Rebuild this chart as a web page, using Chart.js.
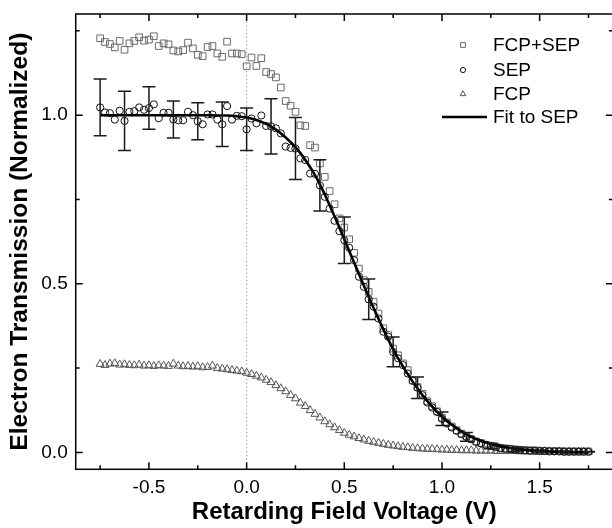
<!DOCTYPE html>
<html><head><meta charset="utf-8">
<script src="https://cdn.jsdelivr.net/npm/chart.js@4.4.1/dist/chart.umd.min.js"></script>
<style>html,body{margin:0;padding:0;overflow:hidden;background:#fff}#wrap{width:614px;height:528px}</style>
</head><body><div id="wrap"><canvas id="c" width="614" height="528"></canvas></div>
<script>
const voltage = [
-0.75,-0.725,-0.7,-0.675,-0.65,-0.625,-0.6,-0.575,-0.55,-0.525,
-0.5,-0.475,-0.45,-0.425,-0.4,-0.375,-0.35,-0.325,-0.3,-0.275,
-0.25,-0.225,-0.2,-0.175,-0.15,-0.125,-0.1,-0.075,-0.05,-0.025,
0,0.025,0.05,0.075,0.1,0.125,0.15,0.175,0.2,0.225,
0.25,0.275,0.3,0.325,0.35,0.375,0.4,0.425,0.45,0.475,
0.5,0.525,0.55,0.575,0.6,0.625,0.65,0.675,0.7,0.725,
0.75,0.775,0.8,0.825,0.85,0.875,0.9,0.925,0.95,0.975,
1,1.025,1.05,1.075,1.1,1.125,1.15,1.175,1.2,1.225,
1.25,1.275,1.3,1.325,1.35,1.375,1.4,1.425,1.45,1.475,
1.5,1.525,1.55,1.575,1.6,1.625,1.65,1.675,1.7,1.725,
1.75];
const fcpSep = [
1.228,1.217,1.211,1.201,1.220,1.194,1.213,1.220,1.231,1.221,
1.224,1.234,1.205,1.213,1.210,1.192,1.189,1.193,1.215,1.198,
1.179,1.175,1.202,1.205,1.183,1.173,1.218,1.183,1.183,1.181,
1.145,1.171,1.146,1.169,1.128,1.122,1.112,1.082,1.042,1.028,
1.010,0.970,0.968,0.911,0.904,0.857,0.817,0.775,0.736,0.694,
0.667,0.632,0.592,0.545,0.511,0.476,0.447,0.412,0.368,0.348,
0.308,0.288,0.264,0.244,0.214,0.194,0.174,0.152,0.137,0.122,
0.103,0.089,0.077,0.066,0.056,0.048,0.040,0.033,0.028,0.023,
0.020,0.017,0.014,0.012,0.011,0.009,0.008,0.007,0.006,0.006,
0.005,0.005,0.004,0.004,0.004,0.003,0.003,0.003,0.003,0.003,
0.003];
const sep = [
1.023,1.008,1.006,0.987,1.013,0.983,1.010,1.012,1.023,1.016,
1.021,1.032,0.991,1.007,1.007,0.987,0.985,0.985,1.010,1.000,
0.982,0.973,1.002,1.002,0.987,0.973,1.027,0.987,0.998,0.997,
0.958,0.990,0.976,0.999,0.968,0.967,0.961,0.946,0.907,0.903,
0.901,0.872,0.867,0.827,0.826,0.792,0.758,0.723,0.687,0.656,
0.629,0.607,0.570,0.521,0.491,0.454,0.432,0.397,0.358,0.343,
0.298,0.279,0.259,0.234,0.212,0.192,0.170,0.148,0.133,0.120,
0.100,0.086,0.074,0.064,0.054,0.046,0.039,0.031,0.027,0.022,
0.019,0.016,0.013,0.011,0.010,0.008,0.007,0.006,0.005,0.005,
0.004,0.004,0.003,0.003,0.003,0.002,0.002,0.002,0.002,0.002,
0.002];
const fcp = [
0.262,0.259,0.263,0.264,0.260,0.261,0.259,0.258,0.260,0.257,
0.258,0.256,0.258,0.257,0.256,0.263,0.257,0.255,0.256,0.254,
0.255,0.252,0.253,0.257,0.250,0.248,0.246,0.244,0.242,0.240,
0.236,0.232,0.227,0.222,0.215,0.208,0.199,0.190,0.181,0.170,
0.160,0.147,0.137,0.125,0.114,0.103,0.092,0.083,0.074,0.066,
0.058,0.052,0.047,0.042,0.038,0.034,0.031,0.028,0.025,0.022,
0.020,0.018,0.016,0.015,0.013,0.012,0.011,0.010,0.010,0.009,
0.008,0.008,0.007,0.007,0.006,0.006,0.006,0.005,0.005,0.005,
0.005,0.004,0.004,0.004,0.004,0.004,0.003,0.003,0.003,0.003,
0.003,0.003,0.003,0.002,0.002,0.002,0.002,0.002,0.002,0.002,
0.002];
const fitV = [
-0.75,-0.7,-0.65,-0.6,-0.55,-0.5,-0.45,-0.4,-0.35,-0.3,
-0.25,-0.2,-0.15,-0.1,-0.05,
0,0.05,0.1,0.15,0.2,0.25,0.3,0.35,0.4,0.45,
0.5,0.55,0.6,0.65,0.7,0.75,0.8,0.85,0.9,0.95,
1,1.05,1.1,1.15,1.2,1.25,1.3,1.35,1.4,1.45,
1.5,1.55,1.6,1.65,1.7,1.75];
const fitY = [
1.000,1.000,1.000,1.000,1.000,1.000,1.000,1.000,1.000,1.000,
1.000,1.000,0.999,0.999,0.997,
0.993,0.986,0.974,0.957,0.934,0.905,0.868,0.822,0.765,0.700,
0.632,0.563,0.495,0.428,0.365,0.306,0.255,0.210,0.170,0.136,
0.106,0.082,0.062,0.046,0.034,0.025,0.018,0.013,0.009,0.006,
0.004,0.003,0.002,0.001,0.001,0.000];
const errV = [-0.75,-0.625,-0.5,-0.375,-0.25,-0.125,0,0.125,0.25,0.375,0.5,0.625,0.75,0.875,1,1.125,1.25,1.375,1.5,1.625,1.75];
const errHalf = [0.084,0.088,0.063,0.055,0.055,0.066,0.063,0.082,0.092,0.076,0.069,0.060,0.044,0.032,0.020,0.013,0.008,0.005,0.003,0.002,0.001];
const xTicks = [-0.5,0,0.5,1,1.5];
const xMinor = [-0.75,-0.25,0.25,0.75,1.25,1.75];
const yTicks = [0,0.5,1];
const yMinor = [0.25,0.75,1.25];
const seriesNames = ['FCP+SEP','SEP','FCP','Fit to SEP'];

const FONT = "'Liberation Sans', Arial, Helvetica, sans-serif";

const deco = {
  id: 'deco',
  beforeDatasetsDraw(chart) {
    const {ctx, chartArea: a, scales: {x}} = chart;
    const px = x.getPixelForValue(0);
    ctx.save();
    ctx.strokeStyle = '#8a8a8a';
    ctx.lineWidth = 1;
    ctx.setLineDash([1.2, 2.6]);
    ctx.beginPath(); ctx.moveTo(px, a.top); ctx.lineTo(px, a.bottom); ctx.stroke();
    ctx.restore();
  },
  afterDatasetsDraw(chart) {
    const {ctx, scales: {x, y}} = chart;
    ctx.save();
    ctx.strokeStyle = '#1a1a1a';
    ctx.lineWidth = 1.5;
    errV.forEach((v, k) => {
      const i = voltage.findIndex(t => Math.abs(t - v) < 1e-6);
      const c = sep[i];
      const px = x.getPixelForValue(v);
      const yt = y.getPixelForValue(c + errHalf[k]);
      const yb = y.getPixelForValue(c - errHalf[k]);
      ctx.beginPath();
      ctx.moveTo(px, yt); ctx.lineTo(px, yb);
      ctx.moveTo(px - 6.5, yt); ctx.lineTo(px + 6.5, yt);
      ctx.moveTo(px - 6.5, yb); ctx.lineTo(px + 6.5, yb);
      ctx.stroke();
    });
    ctx.restore();
  },
  afterDraw(chart) {
    const {ctx, chartArea: a, scales: {x, y}} = chart;
    ctx.save();
    ctx.strokeStyle = '#000';
    ctx.lineWidth = 1.5;
    ctx.strokeRect(a.left, a.top, a.right - a.left, a.bottom - a.top);
    ctx.beginPath();
    const xt = (vals, len) => vals.forEach(v => {
      const p = x.getPixelForValue(v);
      ctx.moveTo(p, a.bottom); ctx.lineTo(p, a.bottom - len);
      ctx.moveTo(p, a.top); ctx.lineTo(p, a.top + len);
    });
    const yt = (vals, len) => vals.forEach(v => {
      const p = y.getPixelForValue(v);
      ctx.moveTo(a.left, p); ctx.lineTo(a.left + len, p);
      ctx.moveTo(a.right, p); ctx.lineTo(a.right - len, p);
    });
    xt(xTicks, 7); xt(xMinor, 4); yt(yTicks, 7); yt(yMinor, 4);
    ctx.stroke();

    // legend
    const ds = chart.data.datasets;
    const rows = [
      {d: ds[3], y: 45}, {d: ds[1], y: 70}, {d: ds[2], y: 94}, {d: ds[0], y: 117}
    ];
    ctx.font = '19px ' + FONT;
    ctx.textBaseline = 'middle';
    ctx.textAlign = 'left';
    rows.forEach(r => {
      const d = r.d;
      if (d.showLine) {
        ctx.strokeStyle = d.borderColor; ctx.lineWidth = d.borderWidth;
        ctx.beginPath(); ctx.moveTo(442, r.y); ctx.lineTo(487, r.y); ctx.stroke();
      } else {
        ctx.strokeStyle = d.borderColor; ctx.lineWidth = 1;
        ctx.fillStyle = 'rgba(0,0,0,0)';
        Chart.helpers.drawPoint(ctx, {pointStyle: d.pointStyle, radius: d.pointRadius * 0.72, rotation: 0, borderWidth: 1}, 463, r.y);
      }
      ctx.fillStyle = '#000';
      ctx.fillText(d.label, 493, r.y + 1);
    });
    ctx.restore();
  }
};

const axisFont = {family: FONT, size: 19};

new Chart(document.getElementById('c'), {
  type: 'scatter',
  data: {
    datasets: [
      {label: seriesNames[3], data: fitV.map((v, i) => ({x: v, y: fitY[i]})), showLine: true, borderColor: '#000', borderWidth: 2.6, pointRadius: 0, cubicInterpolationMode: 'monotone', order: 0},
      {label: seriesNames[1], data: voltage.map((v, i) => ({x: v, y: sep[i]})), pointStyle: 'circle', pointRadius: 3.6, borderColor: '#111', backgroundColor: 'rgba(0,0,0,0)', pointBorderWidth: 1, showLine: false, order: 1},
      {label: seriesNames[2], data: voltage.map((v, i) => ({x: v, y: fcp[i]})), pointStyle: 'triangle', pointRadius: 4.6, borderColor: '#555', backgroundColor: 'rgba(0,0,0,0)', pointBorderWidth: 1, showLine: false, order: 2},
      {label: seriesNames[0], data: voltage.map((v, i) => ({x: v, y: fcpSep[i]})), pointStyle: 'rect', pointRadius: 4.7, borderColor: '#6a6a6a', backgroundColor: 'rgba(0,0,0,0)', pointBorderWidth: 1, showLine: false, order: 3}
    ]
  },
  options: {
    responsive: false,
    animation: false,
    layout: {autoPadding: false, padding: {top: 14, right: 1.1, left: 0, bottom: 0}},
    plugins: {legend: {display: false}, tooltip: {enabled: false}},
    scales: {
      x: {
        type: 'linear', position: 'bottom', min: -0.875, max: 1.875,
        afterBuildTicks: s => { s.ticks = xTicks.map(v => ({value: v})); },
        afterFit: s => { s.height = 58.7; s.paddingLeft = 0; s.paddingRight = 0; },
        grid: {display: false, drawTicks: false, tickLength: 0},
        border: {display: false},
        ticks: {font: axisFont, color: '#000', padding: 7, maxRotation: 0, autoSkip: false, callback: v => Number(v).toFixed(1)},
        title: {display: true, text: 'Retarding Field Voltage (V)', font: {family: FONT, size: 24, weight: 'bold'}, color: '#000', padding: {top: 0, bottom: 1}}
      },
      y: {
        type: 'linear', position: 'left', min: -0.05, max: 1.3,
        afterBuildTicks: s => { s.ticks = yTicks.map(v => ({value: v})); },
        afterFit: s => { s.width = 75.7; s.paddingTop = 0; s.paddingBottom = 0; },
        grid: {display: false, drawTicks: false, tickLength: 0},
        border: {display: false},
        ticks: {font: axisFont, color: '#000', padding: 8, autoSkip: false, callback: v => Number(v).toFixed(1)},
        title: {display: true, text: 'Electron Transmission (Normalized)', font: {family: FONT, size: 24.5, weight: 'bold'}, color: '#000', padding: {top: 6, bottom: 0}}
      }
    }
  },
  plugins: [deco]
});
</script></body></html>
